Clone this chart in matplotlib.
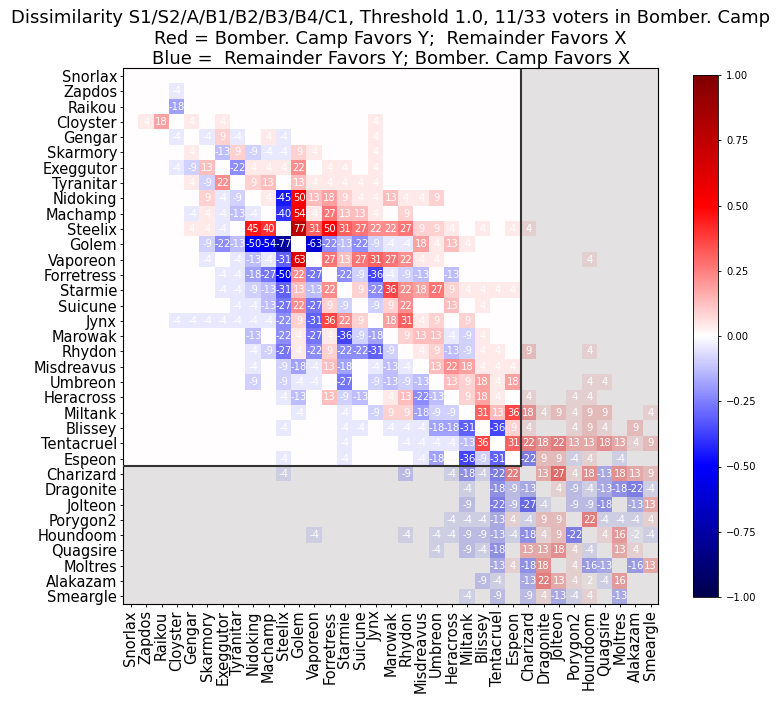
"""Dissimilarity heatmap: Bomber. Camp vs remainder."""

import numpy as np
import matplotlib
matplotlib.use('Agg')
import matplotlib.pyplot as plt
from matplotlib.patches import Rectangle

names = ['Snorlax', 'Zapdos', 'Raikou', 'Cloyster', 'Gengar', 'Skarmory',
         'Exeggutor', 'Tyranitar', 'Nidoking', 'Machamp', 'Steelix', 'Golem',
         'Vaporeon', 'Forretress', 'Starmie', 'Suicune', 'Jynx', 'Marowak',
         'Rhydon', 'Misdreavus', 'Umbreon', 'Heracross', 'Miltank', 'Blissey',
         'Tentacruel', 'Espeon', 'Charizard', 'Dragonite', 'Jolteon',
         'Porygon2', 'Houndoom', 'Quagsire', 'Moltres', 'Alakazam', 'Smeargle']

# first block of names (top-left square), the rest is shaded
n_block = 26

# dissimilarity in percent, one row per name (0 = empty cell)
dissim = [
    [0, 0, 0, 0, 0, 0, 0, 0, 0, 0,  0, 0, 0, 0, 0, 0, 0, 0, 0, 0,  0, 0, 0, 0, 0, 0, 0, 0, 0, 0,  0, 0, 0, 0, 0],
    [0, 0, 0, -4, 0, 0, 0, 0, 0, 0,  0, 0, 0, 0, 0, 0, 0, 0, 0, 0,  0, 0, 0, 0, 0, 0, 0, 0, 0, 0,  0, 0, 0, 0, 0],
    [0, 0, 0, -18, 0, 0, 0, 0, 0, 0,  0, 0, 0, 0, 0, 0, 0, 0, 0, 0,  0, 0, 0, 0, 0, 0, 0, 0, 0, 0,  0, 0, 0, 0, 0],
    [0, 4, 18, 0, 4, 0, 4, 0, 0, 0,  0, 0, 0, 0, 0, 0, 4, 0, 0, 0,  0, 0, 0, 0, 0, 0, 0, 0, 0, 0,  0, 0, 0, 0, 0],
    [0, 0, 0, -4, 0, -4, 9, -4, 0, 4,  -4, 0, 0, 0, 0, 0, 4, 0, 0, 0,  0, 0, 0, 0, 0, 0, 0, 0, 0, 0,  0, 0, 0, 0, 0],
    [0, 0, 0, 0, 4, 0, -13, 9, -9, -4,  -4, 9, 4, 0, 0, 0, 4, 0, 0, 0,  0, 0, 0, 0, 0, 0, 0, 0, 0, 0,  0, 0, 0, 0, 0],
    [0, 0, 0, -4, -9, 13, 0, -22, 4, 4,  4, 22, 0, 4, 4, 0, 4, 0, 0, 0,  0, 0, 0, 0, 0, 0, 0, 0, 0, 0,  0, 0, 0, 0, 0],
    [0, 0, 0, 0, 4, -9, 22, 0, 9, 13,  0, 13, 4, 4, 4, 4, 4, 0, 0, 0,  0, 0, 0, 0, 0, 0, 0, 0, 0, 0,  0, 0, 0, 0, 0],
    [0, 0, 0, 0, 0, 9, -4, -9, 0, 4,  -45, 50, 13, 18, 9, 4, 4, 13, 4, 4,  9, 0, 0, 0, 0, 0, 0, 0, 0, 0,  0, 0, 0, 0, 0],
    [0, 0, 0, 0, -4, 4, -4, -13, -4, 0,  -40, 54, 4, 27, 13, 13, 4, 0, 9, 0,  0, 0, 0, 0, 0, 0, 0, 0, 0, 0,  0, 0, 0, 0, 0],
    [0, 0, 0, 0, 4, 4, -4, 0, 45, 40,  0, 77, 31, 50, 31, 27, 22, 22, 27, 9,  9, 4, 0, 4, 0, 4, 4, 0, 0, 0,  0, 0, 0, 0, 0],
    [0, 0, 0, 0, 0, -9, -22, -13, -50, -54,  -77, 0, -63, -22, -13, -22, -9, -4, -4, 18,  4, 13, 4, 0, 0, 0, 0, 0, 0, 0,  0, 0, 0, 0, 0],
    [0, 0, 0, 0, 0, -4, 0, -4, -13, -4,  -31, 63, 0, 27, 13, 27, 31, 27, 22, 4,  4, 0, 0, 0, 0, 0, 0, 0, 0, 0,  4, 0, 0, 0, 0],
    [0, 0, 0, 0, 0, 0, -4, -4, -18, -27,  -50, 22, -27, 0, -22, -9, -36, -4, -9, -13,  0, -13, 0, 0, 0, 0, 0, 0, 0, 0,  0, 0, 0, 0, 0],
    [0, 0, 0, 0, 0, 0, -4, -4, -9, -13,  -31, 13, -13, 22, 0, 9, -22, 36, 22, 18,  27, 9, 4, 4, 4, 4, 0, 0, 0, 0,  0, 0, 0, 0, 0],
    [0, 0, 0, 0, 0, 0, 0, -4, -4, -13,  -27, 22, -27, 9, -9, 0, -9, 9, 22, 0,  0, 13, 0, 4, 0, 0, 0, 0, 0, 0,  0, 0, 0, 0, 0],
    [0, 0, 0, -4, -4, -4, -4, -4, -4, -4,  -22, 9, -31, 36, 22, 9, 0, 18, 31, 4,  9, 0, 9, 0, 0, 0, 0, 0, 0, 0,  0, 0, 0, 0, 0],
    [0, 0, 0, 0, 0, 0, 0, 0, -13, 0,  -22, 4, -27, 4, -36, -9, -18, 0, 9, 13,  13, -4, -9, 4, 0, 0, 0, 0, 0, 0,  0, 0, 0, 0, 0],
    [0, 0, 0, 0, 0, 0, 0, 0, -4, -9,  -27, 4, -22, 9, -22, -22, -31, -9, 0, 4,  9, -13, -9, 4, 4, 0, 9, 0, 0, 0,  4, 0, 0, 0, 0],
    [0, 0, 0, 0, 0, 0, 0, 0, -4, 0,  -9, -18, -4, 13, -18, 0, -4, -13, -4, 0,  13, 22, 18, 4, 4, 4, 0, 0, 0, 0,  0, 0, 0, 0, 0],
    [0, 0, 0, 0, 0, 0, 0, 0, -9, 0,  -9, -4, -4, 0, -27, 0, -9, -13, -9, -13,  0, 13, 9, 18, 4, 18, 0, 0, 0, 0,  4, 4, 0, 0, 0],
    [0, 0, 0, 0, 0, 0, 0, 0, 0, 0,  -4, -13, 0, 13, -9, -13, 0, 4, 13, -22,  -13, 0, 9, 18, 4, 0, 4, 0, 0, 4,  4, 0, 0, 0, 0],
    [0, 0, 0, 0, 0, 0, 0, 0, 0, 0,  0, -4, 0, 0, -4, 0, -9, 9, 9, -18,  -9, -9, 0, 31, 13, 36, 18, 4, 9, 4,  9, 9, 0, 0, 4],
    [0, 0, 0, 0, 0, 0, 0, 0, 0, 0,  -4, 0, 0, 0, -4, -4, 0, -4, -4, -4,  -18, -18, -31, 0, -36, 9, 4, 0, 0, 4,  9, 4, 0, 9, 0],
    [0, 0, 0, 0, 0, 0, 0, 0, 0, 0,  0, 0, 0, 0, -4, 0, 0, 0, -4, -4,  -4, -4, -13, 36, 0, 31, 22, 18, 22, 13,  13, 18, 13, 4, 9],
    [0, 0, 0, 0, 0, 0, 0, 0, 0, 0,  -4, 0, 0, 0, -4, 0, 0, 0, 0, -4,  -18, 0, -36, -9, -31, 0, -22, 9, 9, -4,  4, 0, -4, 0, 0],
    [0, 0, 0, 0, 0, 0, 0, 0, 0, 0,  -4, 0, 0, 0, 0, 0, 0, 0, -9, 0,  0, -4, -18, -4, -22, 22, 0, 13, 27, 4,  18, -13, 18, 13, 9],
    [0, 0, 0, 0, 0, 0, 0, 0, 0, 0,  0, 0, 0, 0, 0, 0, 0, 0, 0, 0,  0, 0, -4, 0, -18, -9, -13, 0, 4, -9,  -4, -13, -18, -22, -4],
    [0, 0, 0, 0, 0, 0, 0, 0, 0, 0,  0, 0, 0, 0, 0, 0, 0, 0, 0, 0,  0, 0, -9, 0, -22, -9, -27, -4, 0, -9,  -9, -18, 0, -13, 13],
    [0, 0, 0, 0, 0, 0, 0, 0, 0, 0,  0, 0, 0, 0, 0, 0, 0, 0, 0, 0,  0, -4, -4, -4, -13, 4, -4, 9, 9, 0,  22, -4, -4, -4, 4],
    [0, 0, 0, 0, 0, 0, 0, 0, 0, 0,  0, 0, -4, 0, 0, 0, 0, 0, -4, 0,  -4, -4, -9, -9, -13, -4, -18, 4, 9, -22,  0, 4, 16, -2, -4],
    [0, 0, 0, 0, 0, 0, 0, 0, 0, 0,  0, 0, 0, 0, 0, 0, 0, 0, 0, 0,  -4, 0, -9, -4, -18, 0, 13, 13, 18, 4,  -4, 0, 13, 4, 0],
    [0, 0, 0, 0, 0, 0, 0, 0, 0, 0,  0, 0, 0, 0, 0, 0, 0, 0, 0, 0,  0, 0, 0, 0, -13, 4, -18, 18, 0, 4,  -16, -13, 0, -16, 13],
    [0, 0, 0, 0, 0, 0, 0, 0, 0, 0,  0, 0, 0, 0, 0, 0, 0, 0, 0, 0,  0, 0, 0, -9, -4, 0, -13, 22, 13, 4,  2, -4, 16, 0, 0],
    [0, 0, 0, 0, 0, 0, 0, 0, 0, 0,  0, 0, 0, 0, 0, 0, 0, 0, 0, 0,  0, 0, -4, 0, -9, 0, -9, 4, -13, -4,  4, 0, -13, 0, 0],
]

title = ('Dissimilarity S1/S2/A/B1/B2/B3/B4/C1, Threshold 1.0, 11/33 voters in Bomber. Camp\n'
         'Red = Bomber. Camp Favors Y;  Remainder Favors X\n'
         'Blue =  Remainder Favors Y; Bomber. Camp Favors X')

mat = np.array(dissim, dtype=float)
n = len(names)
assert mat.shape == (n, n)

W, H = 781, 703
fig = plt.figure(figsize=(W / 100, H / 100), dpi=100)
ax = fig.add_axes([123.3 / W, 1 - 604 / H, 535 / W, 535.7 / H])
cax = fig.add_axes([693 / W, 1 - 597 / H, 25 / W, 522 / H])

im = ax.imshow(mat / 100.0, cmap='seismic', vmin=-1, vmax=1,
               aspect='auto', interpolation='nearest')

# shade everything outside the first block
shade = dict(facecolor='black', alpha=0.11, linewidth=0, zorder=2)
ax.add_patch(Rectangle((n_block - 0.5, -0.5), n - n_block, n_block, **shade))
ax.add_patch(Rectangle((-0.5, n_block - 0.5), n, n - n_block, **shade))

# block outline
ax.plot([-0.5, n_block - 0.5], [n_block - 0.5, n_block - 0.5], color='#333333', lw=1.5, zorder=3)
ax.plot([n_block - 0.5, n_block - 0.5], [-0.5, n_block - 0.5], color='#333333', lw=1.5, zorder=3)

for i in range(n):
    for j in range(n):
        v = int(mat[i, j])
        if v != 0:
            ax.text(j, i, str(v), ha='center', va='center', color='white',
                    fontsize=7.2, zorder=4)

ax.set_xlim(-0.5, n - 0.5)
ax.set_ylim(n - 0.5, -0.5)
ax.set_xticks(range(n))
ax.set_yticks(range(n))
ax.set_xticklabels(names, rotation=90, fontsize=10.5)
ax.set_yticklabels(names, fontsize=10.5)
ax.tick_params(length=2.5, width=0.6, pad=2)
for s in ax.spines.values():
    s.set_linewidth(0.8)

ax.set_title(title, fontsize=13, pad=0.5)

cb = fig.colorbar(im, cax=cax, ticks=[-1, -0.75, -0.5, -0.25, 0, 0.25, 0.5, 0.75, 1])
cb.ax.set_yticklabels(['%.2f' % t if t >= 0 else '\u2212%.2f' % -t
                       for t in [-1, -0.75, -0.5, -0.25, 0, 0.25, 0.5, 0.75, 1]])
cb.ax.tick_params(labelsize=7.2, length=2.5, width=0.6)
cb.outline.set_linewidth(0.6)

fig.savefig('out.png', dpi=100)
